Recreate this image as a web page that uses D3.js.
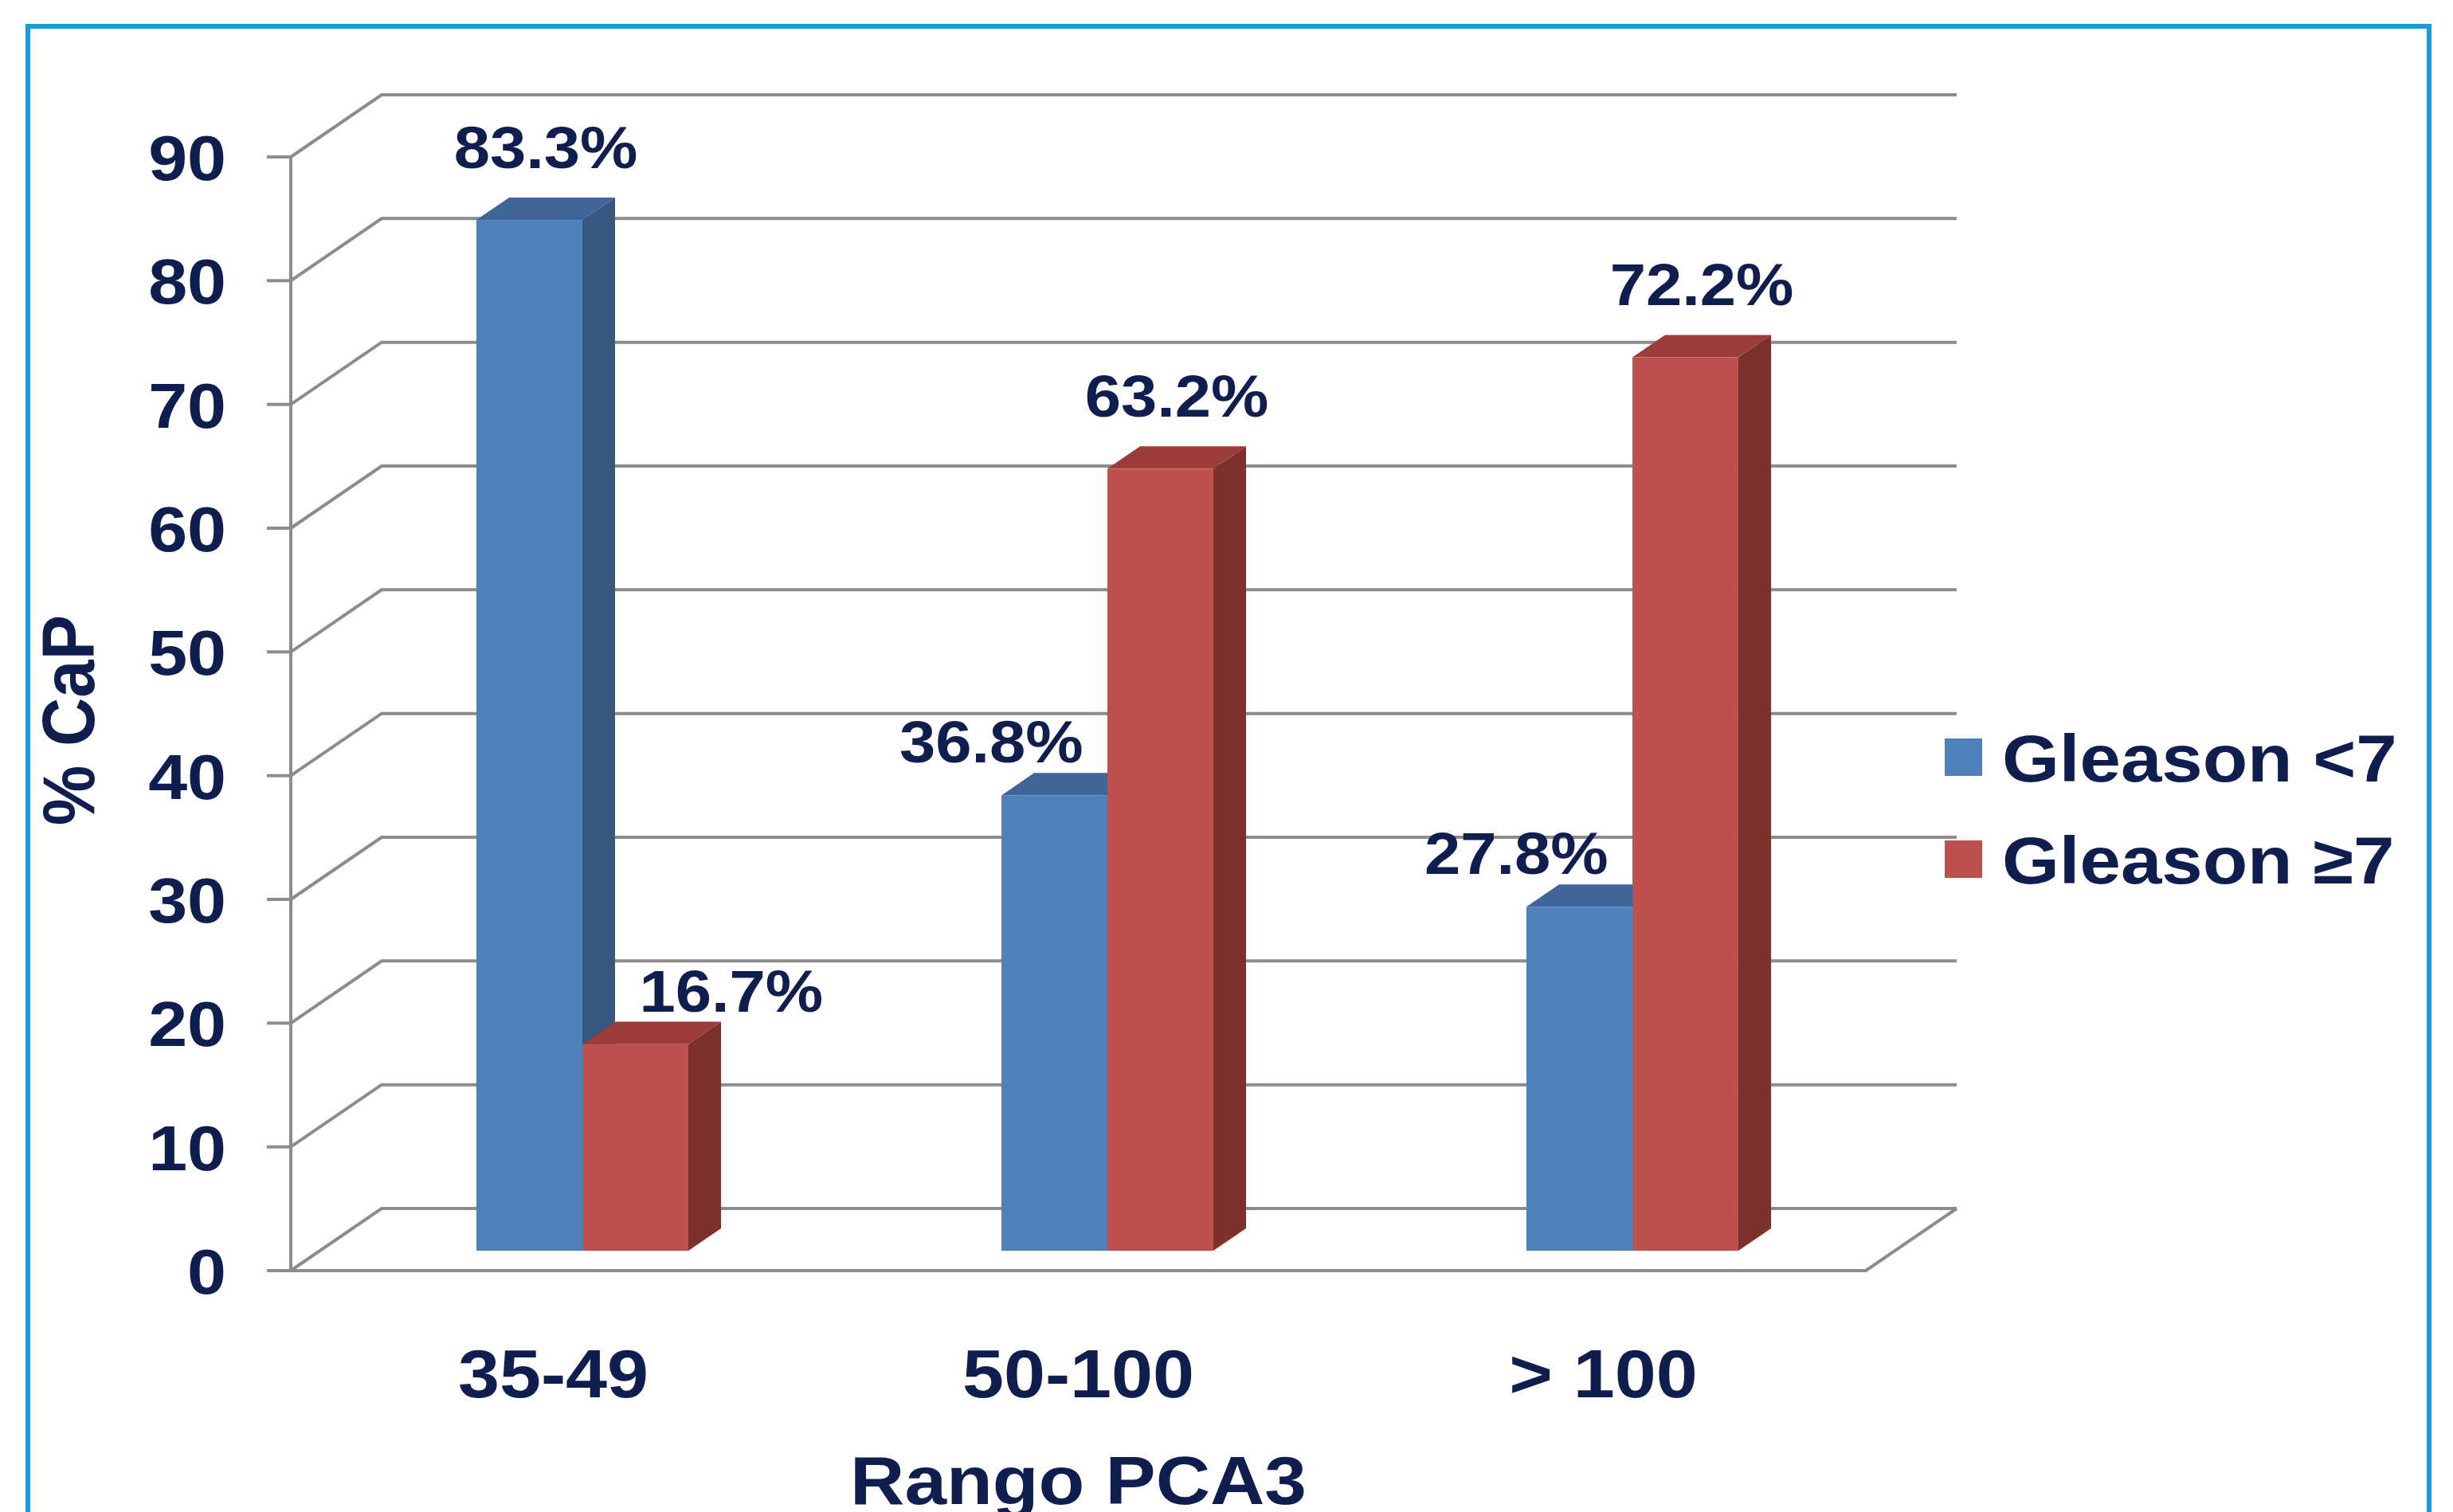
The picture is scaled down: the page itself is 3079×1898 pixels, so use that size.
<!DOCTYPE html>
<html>
<head>
<meta charset="utf-8">
<script src="https://cdn.jsdelivr.net/npm/d3@7"></script>
<style>
  body { margin: 0; background: #ffffff; }
  svg { display: block; }
</style>
</head>
<body>
<div id="chart"></div>
<script>
// data
var categories = ["35-49", "50-100", "> 100"];
var series = ["Gleason <7", "Gleason \u22657"];
var gleasonLow = [83.3, 36.8, 27.8];
var gleasonHigh = [16.7, 63.2, 72.2];
var yTicks = [0, 10, 20, 30, 40, 50, 60, 70, 80, 90];

var W = 3079, H = 1898;
var textColor = "#0f1e4e";
var gridColor = "#8c8c8c";
var font = "'Liberation Sans', Arial, sans-serif";
var stretch = 1.1;

// colours: front, side, top
var palette = [
    { front: "#4f81bd", side: "#36587f", top: "#3f6699" },
    { front: "#c0504d", side: "#7e302d", top: "#9c3d3a" }
];

var svg = d3.select("#chart").append("svg")
    .attr("width", W)
    .attr("height", H);

svg.append("rect")
    .attr("width", W).attr("height", H)
    .style("fill", "#ffffff");

// frame
svg.append("rect")
    .attr("x", 35).attr("y", 33)
    .attr("width", 3014).attr("height", 2000)
    .style("fill", "none")
    .style("stroke", "#1b9bd7")
    .style("stroke-width", 6);

// front plane of the plot
var plotLeft = 365, plotRight = 2342, plotBottom = 1595, plotTop = 197;
// depth of the floor / back wall offset
var depthX = 114, depthY = 78;

var y = d3.scaleLinear().domain([0, 90]).range([plotBottom, plotTop]);
var x0 = d3.scaleBand().domain(categories).range([plotLeft, plotRight]);
var barW = 133;
var x1 = d3.scaleBand().domain(series)
    .range([x0.bandwidth() / 2 - barW, x0.bandwidth() / 2 + barW]);

// bars sit in the middle of the depth
var setX = depthX * 0.32, setY = depthY * 0.32;
var barDX = depthX * 0.36, barDY = depthY * 0.36;

// helper for stretched bold text
function label(g, txt, px, py, size, anchor) {
    return g.append("text")
        .attr("transform", "translate(" + px + "," + py + ") scale(" + stretch + ",1)")
        .attr("text-anchor", anchor || "middle")
        .style("font-family", font)
        .style("font-weight", "bold")
        .style("font-size", size + "px")
        .style("fill", textColor)
        .text(txt);
}

// back wall gridlines
var grid = svg.append("g")
    .style("stroke", gridColor)
    .style("stroke-width", 4)
    .style("fill", "none");

grid.selectAll("path.wall")
    .data(yTicks)
    .enter().append("path")
    .attr("class", "wall")
    .attr("d", function(t) {
        var yy = y(t);
        return "M" + plotLeft + "," + yy +
            "L" + (plotLeft + depthX) + "," + (yy - depthY) +
            "L" + (plotRight + depthX) + "," + (yy - depthY);
    });

// floor front edge and right side
grid.append("path")
    .attr("d", "M" + plotLeft + "," + plotBottom + "L" + plotRight + "," + plotBottom +
        "L" + (plotRight + depthX) + "," + (plotBottom - depthY));

// y axis line and ticks
var axis = svg.append("g");
axis.append("line")
    .attr("x1", plotLeft).attr("x2", plotLeft)
    .attr("y1", y(90)).attr("y2", y(0))
    .style("stroke", gridColor).style("stroke-width", 4);

axis.selectAll("line.tick")
    .data(yTicks)
    .enter().append("line")
    .attr("class", "tick")
    .attr("x1", plotLeft - 30).attr("x2", plotLeft)
    .attr("y1", function(t) { return y(t); })
    .attr("y2", function(t) { return y(t); })
    .style("stroke", gridColor).style("stroke-width", 4);

yTicks.forEach(function(t) {
    label(axis, t, 284, y(t) + 29, 80, "end");
});

// 3D columns
var bars = svg.append("g");
var values = [gleasonLow, gleasonHigh];

categories.forEach(function(c, i) {
    series.forEach(function(s, k) {
        var v = values[k][i];
        var bx = x0(c) + x1(s) + setX;
        var by0 = y(0) - setY;
        var by1 = y(v) - setY;
        var col = palette[k];
        var g = bars.append("g");

        // side
        g.append("polygon")
            .attr("points", [
                [bx + barW, by1], [bx + barW + barDX, by1 - barDY],
                [bx + barW + barDX, by0 - barDY], [bx + barW, by0]
            ].join(" "))
            .style("fill", col.side);
        // top
        g.append("polygon")
            .attr("points", [
                [bx, by1], [bx + barDX, by1 - barDY],
                [bx + barW + barDX, by1 - barDY], [bx + barW, by1]
            ].join(" "))
            .style("fill", col.top);
        // front
        g.append("rect")
            .attr("x", bx).attr("y", by1)
            .attr("width", barW).attr("height", by0 - by1)
            .style("fill", col.front);
    });
});

// value labels: the shorter bar of each pair gets its label pushed outward
var labels = svg.append("g");
categories.forEach(function(c, i) {
    series.forEach(function(s, k) {
        var v = values[k][i];
        var other = values[1 - k][i];
        var bx = x0(c) + x1(s) + setX;
        var cx = bx + barW / 2 + barDX / 2;
        var topBack = y(v) - setY - barDY;
        var ly = topBack - 37;
        if (v < other) {
            cx += (k === 0 ? -1 : 1) * barW * 0.75;
            ly = topBack - 13;
        }
        label(labels, v.toFixed(1) + "%", cx, ly, 74);
    });
});

// category labels
categories.forEach(function(c) {
    label(svg, c, x0(c) + x0.bandwidth() / 2, 1754, 85);
});

// axis titles
label(svg, "Rango PCA3", (plotLeft + plotRight) / 2, 1888, 86);

svg.append("text")
    .attr("transform", "translate(118,904) rotate(-90) scale(1," + stretch + ")")
    .attr("text-anchor", "middle")
    .style("font-family", font)
    .style("font-weight", "bold")
    .style("font-size", "85px")
    .style("fill", textColor)
    .text("% CaP");

// legend
var legend = svg.append("g");
series.forEach(function(s, k) {
    var cy = 950 + k * 128;
    legend.append("rect")
        .attr("x", 2441).attr("y", cy - 23)
        .attr("width", 47).attr("height", 47)
        .style("fill", palette[k].front);
    label(legend, s, 2513, cy + 31, 84, "start");
});
</script>
</body>
</html>
